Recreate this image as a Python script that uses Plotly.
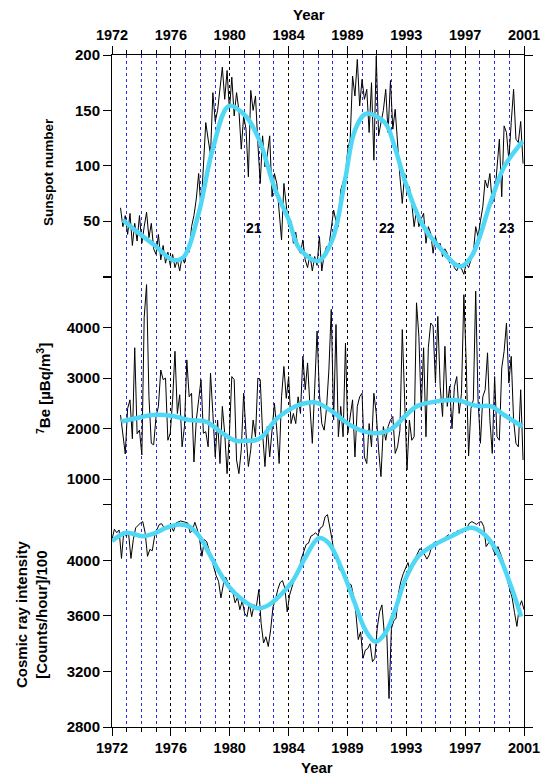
import numpy as np
import plotly.graph_objects as go

# ---------------- data ----------------
step = 1 / 6  # bi-monthly sampling

ssn_start = 1972.6
ssn_vals = [62, 45, 55,
            38, 57, 28, 48, 32, 55,
            30, 45, 58, 35, 48, 25,
            20, 38, 15, 28, 12, 22,
            10, 20, 8, 15, 5, 18,
            12, 25, 22, 45, 55, 70,
            93, 60, 102, 139, 124, 110,
            166, 140, 150, 170, 189, 160,
            186, 150, 180, 145, 166, 150,
            115, 145, 133, 90, 168, 150,
            163, 120, 84, 127, 99, 110,
            127, 72, 93, 84, 60, 33,
            84, 63, 45, 50, 30, 40,
            25, 21, 33, 15, 8, 20,
            5, 18, 10, 36, 5, 20,
            27, 27, 45, 60, 50, 45,
            78, 85, 93, 115, 124, 181,
            163, 196, 154, 178, 160, 169,
            130, 175, 105, 199, 127, 139,
            150, 169, 130, 177, 133, 151,
            118, 90, 66, 93, 75, 81,
            66, 45, 60, 45, 52, 57,
            30, 45, 39, 21, 36, 28,
            30, 18, 25, 21, 12, 15,
            8, 5, 12, 6, 2, 12,
            8, 15, 21, 45, 36, 50,
            63, 87, 80, 93, 66, 72,
            95, 124, 72, 136, 130, 105,
            139, 169, 124, 121, 140, 102]

ssn_smooth_year = [1972.76, 1973.9, 1975.1, 1976.26, 1977.0, 1978.1, 1979.07, 1980.24,
                   1981.4, 1982.34, 1983.5, 1984.45, 1985.15, 1986.5, 1987.5, 1988.4,
                   1989.1, 1989.9, 1991.2, 1991.9, 1992.6, 1993.8, 1995.0, 1996.5,
                   1997.3, 1998.7, 1999.6, 2000.9]
ssn_smooth_vals = [51, 39, 27, 15, 17, 57, 114, 154, 145, 124, 78, 51, 26, 14, 33, 87,
                   132, 147, 139, 117, 87, 48, 27, 9, 18, 69, 99, 122]

be_start = 1972.6
be_vals = [2270, 1840, 1500, 2400, 2570, 1800, 3600, 1900, 1970, 1480,
           4200, 4850, 2630, 1710, 1680, 2240, 2440, 3160, 2970, 3000,
           1770, 1910, 2570, 3530, 2300, 2670, 1640, 2040, 3360, 2630,
           2700, 1340, 2170, 2570, 2970, 1910, 1940, 1640, 3100, 2300,
           1440, 2170, 1310, 2440, 1910, 1110, 1910, 3030, 2970, 1380,
           1110, 1580, 2700, 1910, 1250, 1580, 2170, 1840, 3000, 2970,
           1910, 1250, 2040, 1440, 1910, 2500, 1970, 1310, 2630, 3230,
           2600, 3030, 2100, 2300, 2100, 2630, 2300, 3430, 2770, 3300, 2440,
           1710, 2800, 3930, 2700, 2100, 1970, 2400, 3160, 4360, 2170,
           4060, 1840, 2440, 1840, 3690, 1910, 2300, 2570, 1440, 2440,
           2630, 2700, 1440, 1310, 2100, 1640, 2700, 2300, 1580, 1050,
           2040, 1770, 2040, 2170, 2240, 1510, 1640, 1970, 3960, 2700,
           1180, 2170, 1770, 1840, 4490, 3830, 2370, 3600, 1840, 3600,
           4090, 4030, 2900, 4220, 2830, 2240, 3630, 2440, 2840, 2000,
           2830, 3030, 2300, 2700, 4650, 3300, 1460, 2400, 2570, 4720,
           2570, 1710, 2630, 2770, 3500, 2170, 1510, 3030, 1840, 1770,
           3200, 3530, 4090, 2900, 3430, 2170, 1710, 1640, 2770, 1380]

be_smooth_year = [1972.65, 1973.93, 1974.86, 1976.26, 1977.43, 1978.6, 1979.77, 1980.7,
                  1981.4, 1982.1, 1982.57, 1983.5, 1984.45, 1985.15, 1986.3, 1987.5,
                  1988.6, 1989.8, 1990.7, 1991.7, 1992.6, 1993.5, 1994.9, 1996.3,
                  1997.7, 1998.7, 1999.6, 2000.9]
be_smooth_vals = [2140, 2220, 2270, 2250, 2170, 2140, 1910, 1760, 1760, 1770, 1840, 2170,
                  2370, 2470, 2520, 2340, 2100, 1940, 1910, 2000, 2240, 2450, 2540, 2560,
                  2450, 2440, 2270, 2040]

cr_start = 1972.0
cr_vals = [4150, 4225, 4200, 4220, 4015, 4210, 4175, 4195, 4015, 4150,
           4235, 4255, 4270, 4280, 4200, 4030, 4080, 4070, 4175, 4225,
           4260, 4265, 4235, 4245, 4240, 4245, 4210, 4270, 4280, 4285,
           4280, 4275, 4270, 4200, 4220, 4275, 4225, 4150, 4030, 4150,
           4135, 4075, 4015, 3950, 3890, 3850, 3730, 3825, 3880, 3840,
           3775, 3775, 3695, 3735, 3645, 3710, 3620, 3595, 3690, 3595,
           3680, 3670, 3790, 3545, 3405, 3450, 3380, 3500, 3665, 3715,
           3790, 3840, 3855, 3800, 3630, 3750, 3805, 3865, 3885, 3930,
           4015, 4070, 4115, 4125, 4175, 4185, 4200, 4180, 4235, 4245,
           4315, 4330, 4245, 4145, 4015, 4030, 3935, 3920, 3920, 3880,
           3835, 3825, 3745, 3620, 3430, 3485, 3295, 3355, 3365, 3400,
           3270, 3295, 3510, 3630, 3680, 3475, 3500, 3005, 3510, 3565,
           3585, 3765, 3850, 3905, 3945, 3985, 3915, 3975, 4015, 4055,
           4085, 4075, 4040, 4010, 4040, 4100, 4130, 4135, 4135, 4150,
           4155, 4170, 4185, 4175, 4195, 4200, 4215, 4210, 4200, 4220,
           4240, 4270, 4280, 4270, 4260, 4275, 4280, 4245, 4100, 4125,
           4145, 4075, 4040, 4100, 4055, 4005, 3920, 3850, 3790, 3730,
           3625, 3525, 3665, 3710, 3645]

cr_smooth_year = [1972.0, 1973.0, 1974.16, 1975.1, 1975.8, 1976.73, 1977.43, 1978.14,
                  1978.84, 1979.54, 1980.24, 1981.2, 1981.9, 1982.34, 1983.04, 1983.75,
                  1984.7, 1985.6, 1986.55, 1987.25, 1988.2, 1989.1, 1989.83, 1990.53,
                  1991.23, 1991.93, 1992.63, 1993.56, 1994.73, 1995.9, 1997.3, 1998.24,
                  1999.17, 2000.1, 2000.8]
cr_smooth_vals = [4140, 4200, 4175, 4200, 4235, 4260, 4245, 4175, 4050, 3920, 3810, 3715,
                  3670, 3655, 3680, 3740, 3850, 4020, 4160, 4125, 3930, 3690, 3500, 3415,
                  3475, 3645, 3860, 4030, 4115, 4175, 4235, 4185, 4050, 3810, 3595]

year_labels = ['1972', '1976', '1980', '1984', '1989', '1993', '1997', '2001']
cycle_labels = ['21', '22', '23']
cycle_year = [1982.0, 1991.35, 1999.8]
cycle_ssn = [44, 44, 44]

ssn_ticks = [50, 100, 150, 200]
ssn_extra_ticks = [0]
be_ticks = [1000, 2000, 3000, 4000]
be_extra_ticks = [5000]
cr_ticks = [2800, 3200, 3600, 4000]
cr_extra_ticks = [4400]

# ---------------- figure ----------------
ssn_t = ssn_start + np.arange(len(ssn_vals)) * step
be_t = be_start + np.arange(len(be_vals)) * step
cr_t = cr_start + np.arange(len(cr_vals)) * step

CYAN = '#4fd8f5'
FONT = 'Liberation Sans'
L, R, T, B = 112, 17, 55, 50
W, H = 541, 777
PW, PH = W - L - R, H - T - B

fig = go.Figure()
raw = dict(color='black', width=1)
smooth = dict(color=CYAN, width=4.5, shape='spline', smoothing=1.0)

fig.add_trace(go.Scatter(x=ssn_t, y=ssn_vals, mode='lines', line=raw, xaxis='x2', yaxis='y'))
fig.add_trace(go.Scatter(x=ssn_smooth_year, y=ssn_smooth_vals, mode='lines', line=smooth, xaxis='x2', yaxis='y'))
fig.add_trace(go.Scatter(x=be_t, y=be_vals, mode='lines', line=raw, xaxis='x3', yaxis='y2'))
fig.add_trace(go.Scatter(x=be_smooth_year, y=be_smooth_vals, mode='lines', line=smooth, xaxis='x3', yaxis='y2'))
fig.add_trace(go.Scatter(x=cr_t, y=cr_vals, mode='lines', line=raw, xaxis='x', yaxis='y3'))
fig.add_trace(go.Scatter(x=cr_smooth_year, y=cr_smooth_vals, mode='lines', line=smooth, xaxis='x', yaxis='y3'))

x_ticks = list(np.linspace(1972, 2001, 8))
tickfont = dict(family=FONT, size=15, color='black', weight='bold')
xtickfont = dict(family=FONT, size=14.5, color='black', weight='bold')
MINOR_BLUE = '#2b2bea'

def xax(**kw):
    d = dict(range=[1972, 2001], tickmode='array', tickvals=x_ticks, ticktext=year_labels,
             showgrid=True, gridcolor='#000000', griddash='dot', gridwidth=1,
             minor=dict(tick0=1972, dtick=29 / 28, showgrid=True, gridcolor=MINOR_BLUE,
                        griddash='dot', gridwidth=1, ticks='outside', ticklen=4,
                        tickcolor='black'),
             zeroline=False, ticks='outside', ticklen=8, tickcolor='black',
             tickfont=xtickfont, showline=True, linecolor='black', linewidth=1,
             automargin=False, ticklabeloverflow='allow')
    d.update(kw)
    return d

def yax(extra, **kw):
    d = dict(showgrid=False, zeroline=False, ticks='outside', ticklen=8, tickcolor='black',
             showline=True, linecolor='black', linewidth=1, mirror='ticks',
             tickfont=tickfont, tickmode='array', automargin=False,
             minor=dict(tickmode='array', tickvals=extra, ticks='outside', ticklen=8,
                        tickcolor='black', showgrid=False))
    d.update(kw)
    return d

d_cr = [0, 0.3304]
d_be = [0.3304, 0.6704]
d_ss = [0.6704, 1]

fig.update_layout(
    width=W, height=H,
    margin=dict(l=L, r=R, t=T, b=B),
    paper_bgcolor='white', plot_bgcolor='white',
    showlegend=False,
    xaxis=xax(anchor='y3', domain=[0, 1], side='bottom'),
    xaxis2=xax(matches='x', anchor='y', domain=[0, 1], side='top'),
    xaxis3=xax(matches='x', anchor='y2', domain=[0, 1], showticklabels=False, ticks='',
               showline=False,
               minor=dict(tick0=1972, dtick=29 / 28, showgrid=True, gridcolor=MINOR_BLUE,
                          griddash='dot', gridwidth=1, ticks='')),
    yaxis=yax(ssn_extra_ticks, domain=d_ss, range=[0, 200], tickvals=ssn_ticks),
    yaxis2=yax(be_extra_ticks, domain=d_be, range=[490, 5010], tickvals=be_ticks),
    yaxis3=yax(cr_extra_ticks, domain=d_cr, range=[2800, 4400], tickvals=cr_ticks),
)

def px2paper_x(px):
    return (px - L) / PW

def px2paper_y(py):
    return (H - B - py) / PH

ann = []
for lab, yr, v in zip(cycle_labels, cycle_year, cycle_ssn):
    ann.append(dict(text=lab, x=yr, y=v, xref='x2', yref='y', showarrow=False,
                    xanchor='center', yanchor='middle',
                    font=dict(family=FONT, size=14, color='black', weight='bold')))

title_font = dict(family=FONT, size=15, color='black', weight='bold')
common = dict(xref='paper', yref='paper', showarrow=False, xanchor='center', yanchor='middle')
ann.append(dict(text='Year', x=px2paper_x(309), y=px2paper_y(15), font=title_font, **common))
ann.append(dict(text='Year', x=px2paper_x(317), y=px2paper_y(768), font=title_font, **common))
ann.append(dict(text='Sunspot number', x=px2paper_x(48), y=px2paper_y(172), textangle=-90,
                font=dict(family=FONT, size=13.5, color='black', weight='bold'), **common))
ann.append(dict(text='<sup>7</sup>Be [µBq/m<sup>3</sup>]', x=px2paper_x(43), y=px2paper_y(389),
                textangle=-90, font=title_font, **common))
ann.append(dict(text='Cosmic ray intensity<br>[Counts/hour]/100', x=px2paper_x(31),
                y=px2paper_y(615), textangle=-90, font=title_font, **common))
fig.update_layout(annotations=ann)

fig.write_html('out.html')
